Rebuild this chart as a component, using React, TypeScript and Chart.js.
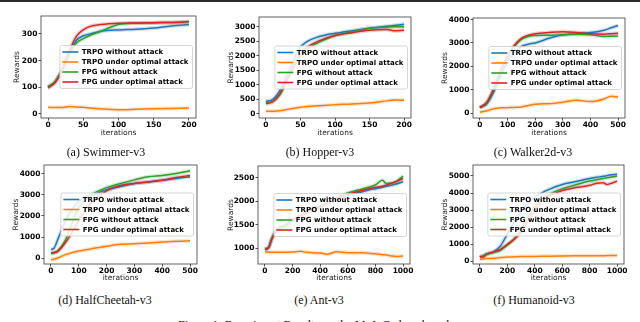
import React, { useEffect, useRef } from "react";
import { Chart, registerables } from "chart.js";

Chart.register(...registerables);

const FONT = '"DejaVu Sans", sans-serif';
const SERIF = '"Liberation Serif", "Times New Roman", serif';

const SERIES_NAMES = [
  "TRPO without attack",
  "TRPO under optimal attack",
  "FPG without attack",
  "FPG under optimal attack",
];
const SERIES_COLORS = ["#1f77b4", "#ff7f0e", "#2ca02c", "#d62728"];
const BAND_COLORS = [
  "rgba(31,119,180,0.22)",
  "rgba(255,127,14,0.22)",
  "rgba(44,160,44,0.22)",
  "rgba(214,39,40,0.22)",
];

// ---------- (a) Swimmer-v3 ----------
const swimmerIter = [0, 10, 20, 30, 40, 50, 60, 75, 100, 125, 150, 175, 200];
const swimmerTrpo = [100, 120, 165, 225, 275, 293, 300, 310, 315, 317, 322, 330, 335];
const swimmerTrpoAttack = [25, 24, 24, 28, 26, 25, 22, 19, 16, 18, 20, 21, 22];
const swimmerFpg = [103, 122, 165, 222, 265, 282, 295, 310, 335, 340, 341, 343, 345];
const swimmerFpgAttack = [97, 118, 165, 235, 290, 315, 328, 335, 340, 341, 342, 343, 346];
const swimmerXTicks = [0, 50, 100, 150, 200];
const swimmerYTicks = [0, 100, 200, 300];

// ---------- (b) Hopper-v3 ----------
const hopperIter = [0, 10, 20, 30, 40, 50, 60, 75, 100, 125, 150, 175, 185, 200];
const hopperTrpo = [430, 500, 800, 1300, 1850, 2300, 2500, 2650, 2780, 2870, 2950, 3020, 3050, 3090];
const hopperTrpoAttack = [90, 95, 110, 150, 190, 230, 255, 280, 320, 340, 380, 450, 480, 470];
const hopperFpg = [380, 430, 650, 1100, 1600, 2000, 2250, 2450, 2700, 2830, 2950, 2990, 3000, 3000];
const hopperFpgAttack = [360, 420, 700, 1150, 1650, 2050, 2300, 2500, 2700, 2800, 2880, 2910, 2870, 2880];
const hopperXTicks = [0, 50, 100, 150, 200];
const hopperYTicks = [0, 500, 1000, 1500, 2000, 2500, 3000];

// ---------- (c) Walker2d-v3 ----------
const walkerIter = [0, 25, 50, 75, 100, 125, 150, 175, 200, 250, 300, 350, 400, 450, 475, 500];
const walkerTrpo = [230, 400, 900, 1600, 2200, 2600, 2850, 2950, 3000, 3200, 3350, 3400, 3450, 3550, 3650, 3750];
const walkerTrpoAttack = [30, 100, 180, 220, 230, 240, 260, 320, 380, 400, 460, 550, 490, 600, 720, 680];
const walkerFpg = [230, 450, 1000, 1800, 2400, 2850, 3150, 3280, 3320, 3330, 3350, 3380, 3350, 3280, 3290, 3300];
const walkerFpgAttack = [230, 450, 1050, 1800, 2450, 2900, 3200, 3330, 3400, 3450, 3480, 3450, 3400, 3380, 3400, 3420];
const walkerXTicks = [0, 100, 200, 300, 400, 500];
const walkerYTicks = [0, 1000, 2000, 3000, 4000];

// ---------- (d) HalfCheetah-v3 ----------
const cheetahIter = [0, 10, 25, 50, 75, 100, 125, 150, 200, 250, 300, 350, 400, 450, 500];
const cheetahTrpo = [420, 450, 900, 1700, 2300, 2700, 2880, 3000, 3250, 3400, 3550, 3620, 3700, 3780, 3870];
const cheetahTrpoAttack = [-80, -60, 0, 150, 250, 330, 390, 450, 560, 650, 680, 720, 760, 800, 820];
const cheetahFpg = [250, 260, 350, 800, 1600, 2400, 2800, 3050, 3350, 3550, 3720, 3870, 3930, 4020, 4150];
const cheetahFpgAttack = [230, 240, 320, 700, 1200, 1800, 2300, 2700, 3200, 3450, 3550, 3620, 3700, 3830, 3930];
const cheetahXTicks = [0, 100, 200, 300, 400, 500];
const cheetahYTicks = [0, 1000, 2000, 3000, 4000];

// ---------- (e) Ant-v3 ----------
const antIter = [0, 25, 50, 75, 100, 150, 200, 260, 300, 400, 450, 520, 600, 700, 750, 800, 850, 880, 950, 1000];
const antTrpo = [990, 1010, 1200, 1340, 1420, 1490, 1600, 1690, 1760, 1900, 1960, 2050, 2130, 2200, 2240, 2270, 2300, 2320, 2370, 2420];
const antTrpoAttack = [920, 915, 910, 910, 910, 912, 915, 930, 910, 895, 870, 920, 900, 900, 890, 880, 860, 850, 820, 830];
const antFpg = [980, 1000, 1200, 1350, 1430, 1500, 1600, 1700, 1750, 1880, 1960, 2080, 2180, 2260, 2300, 2350, 2450, 2380, 2420, 2540];
const antFpgAttack = [970, 1000, 1200, 1330, 1420, 1480, 1600, 1690, 1750, 1880, 1960, 2070, 2150, 2230, 2270, 2300, 2320, 2350, 2420, 2490];
const antXTicks = [0, 200, 400, 600, 800, 1000];
const antYTicks = [1000, 1500, 2000, 2500];

// ---------- (f) Humanoid-v3 ----------
const humanoidIter = [0, 25, 50, 100, 150, 200, 250, 300, 350, 400, 450, 500, 600, 700, 800, 850, 900, 925, 950, 1000];
const humanoidTrpo = [250, 330, 420, 560, 900, 1600, 2300, 2900, 3400, 3750, 4000, 4200, 4500, 4670, 4850, 4920, 4980, 5020, 5050, 5100];
const humanoidTrpoAttack = [120, 140, 160, 180, 220, 250, 265, 280, 285, 290, 295, 300, 310, 320, 330, 330, 330, 335, 335, 340];
const humanoidFpg = [250, 330, 420, 520, 650, 950, 1300, 1900, 2600, 3200, 3600, 3900, 4250, 4480, 4700, 4780, 4850, 4900, 4920, 5000];
const humanoidFpgAttack = [280, 260, 420, 550, 700, 1000, 1300, 1700, 2400, 3000, 3500, 3800, 4150, 4320, 4450, 4580, 4600, 4500, 4550, 4700];
const humanoidXTicks = [0, 200, 400, 600, 800, 1000];
const humanoidYTicks = [0, 1000, 2000, 3000, 4000, 5000];

type PanelDef = {
  caption: string;
  iter: number[];
  series: number[][];
  xTicks: number[];
  yTicks: number[];
  xRange: [number, number];
  yRange: [number, number];
  box: { left: number; top: number; width: number; height: number };
  plot: { l: number; t: number; r: number; b: number };
  yTitleX: number;
  xTitleY: number;
  captionPos: [number, number];
};

const PANELS: PanelDef[] = [
  {
    caption: "(a) Swimmer-v3",
    iter: swimmerIter,
    series: [swimmerTrpo, swimmerTrpoAttack, swimmerFpg, swimmerFpgAttack],
    xTicks: swimmerXTicks,
    yTicks: swimmerYTicks,
    xRange: [-10, 210],
    yRange: [-15, 367],
    box: { left: 0, top: 0, width: 213, height: 140 },
    plot: { l: 41, t: 16, r: 196, b: 118 },
    yTitleX: 17,
    xTitleY: 133,
    captionPos: [106, 152],
  },
  {
    caption: "(b) Hopper-v3",
    iter: hopperIter,
    series: [hopperTrpo, hopperTrpoAttack, hopperFpg, hopperFpgAttack],
    xTicks: hopperXTicks,
    yTicks: hopperYTicks,
    xRange: [-10, 210],
    yRange: [-140, 3340],
    box: { left: 213, top: 0, width: 213, height: 140 },
    plot: { l: 259, t: 17, r: 411, b: 118 },
    yTitleX: 231,
    xTitleY: 133,
    captionPos: [320, 152],
  },
  {
    caption: "(c) Walker2d-v3",
    iter: walkerIter,
    series: [walkerTrpo, walkerTrpoAttack, walkerFpg, walkerFpgAttack],
    xTicks: walkerXTicks,
    yTicks: walkerYTicks,
    xRange: [-25, 525],
    yRange: [-214, 4071],
    box: { left: 426, top: 0, width: 214, height: 140 },
    plot: { l: 473, t: 18, r: 625, b: 118 },
    yTitleX: 445,
    xTitleY: 133,
    captionPos: [533, 152],
  },
  {
    caption: "(d) HalfCheetah-v3",
    iter: cheetahIter,
    series: [cheetahTrpo, cheetahTrpoAttack, cheetahFpg, cheetahFpgAttack],
    xTicks: cheetahXTicks,
    yTicks: cheetahYTicks,
    xRange: [-25, 525],
    yRange: [-285, 4427],
    box: { left: 0, top: 145, width: 213, height: 141 },
    plot: { l: 44, t: 165, r: 197, b: 264 },
    yTitleX: 16,
    xTitleY: 278,
    captionPos: [105, 300],
  },
  {
    caption: "(e) Ant-v3",
    iter: antIter,
    series: [antTrpo, antTrpoAttack, antFpg, antFpgAttack],
    xTicks: antXTicks,
    yTicks: antYTicks,
    xRange: [-50, 1050],
    yRange: [660, 2755],
    box: { left: 213, top: 145, width: 213, height: 141 },
    plot: { l: 258, t: 166, r: 410, b: 264 },
    yTitleX: 231,
    xTitleY: 278,
    captionPos: [319, 300],
  },
  {
    caption: "(f) Humanoid-v3",
    iter: humanoidIter,
    series: [humanoidTrpo, humanoidTrpoAttack, humanoidFpg, humanoidFpgAttack],
    xTicks: humanoidXTicks,
    yTicks: humanoidYTicks,
    xRange: [-50, 1050],
    yRange: [-156, 5642],
    box: { left: 426, top: 145, width: 214, height: 141 },
    plot: { l: 473, t: 165, r: 624, b: 264 },
    yTitleX: 445,
    xTitleY: 278,
    captionPos: [534, 300],
  },
];

const framePlugin = {
  id: "frame",
  afterDatasetsDraw(chart: any) {
    const { ctx, chartArea: a } = chart;
    ctx.save();
    ctx.strokeStyle = "#3a3a3a";
    ctx.lineWidth = 0.8;
    ctx.strokeRect(a.left, a.top, a.right - a.left, a.bottom - a.top);
    ctx.restore();
  },
};

const legendPlugin = {
  id: "boxLegend",
  afterDraw(chart: any) {
    const { ctx, chartArea: a } = chart;
    ctx.save();
    ctx.font = `bold 7px ${FONT}`;
    const tw = Math.max(...SERIES_NAMES.map((n) => ctx.measureText(n).width));
    const w = 22 + tw + 4;
    const h = 43;
    const right = a.right - 3.5;
    const left = right - w;
    const cy = (a.top + a.bottom) / 2;
    const top = cy - h / 2;
    ctx.beginPath();
    if ((ctx as any).roundRect) (ctx as any).roundRect(left, top, w, h, 2);
    else ctx.rect(left, top, w, h);
    ctx.fillStyle = "rgba(255,255,255,0.85)";
    ctx.fill();
    ctx.strokeStyle = "#cccccc";
    ctx.lineWidth = 0.8;
    ctx.stroke();
    ctx.textBaseline = "middle";
    ctx.textAlign = "left";
    SERIES_NAMES.forEach((name, i) => {
      const y = cy - 15 + i * 10;
      ctx.strokeStyle = SERIES_COLORS[i];
      ctx.lineWidth = 1.6;
      ctx.beginPath();
      ctx.moveTo(left + 2.5, y);
      ctx.lineTo(left + 18.5, y);
      ctx.stroke();
      ctx.fillStyle = "#000";
      ctx.fillText(name, left + 22, y + 0.5);
    });
    ctx.restore();
  },
};

function PanelChart({ def }: { def: PanelDef }) {
  const ref = useRef<HTMLCanvasElement | null>(null);
  useEffect(() => {
    if (!ref.current) return;
    const { box, plot } = def;
    const yAxisW = plot.l - box.left;
    const padT = plot.t - box.top;
    const padR = box.left + box.width - plot.r;
    const xAxisH = box.top + box.height - plot.b;
    const titleLH = 7.5 * 1.2;
    const xTitlePadB = box.top + box.height - def.xTitleY - titleLH / 2;
    const yTitlePadT = def.yTitleX - box.left - titleLH / 2;

    const lineSets = def.series.map((vals, i) => ({
      label: SERIES_NAMES[i],
      data: def.iter.map((x, k) => ({ x, y: vals[k] })),
      borderColor: SERIES_COLORS[i],
      borderWidth: 1.5,
      pointRadius: 0,
      cubicInterpolationMode: "monotone" as const,
      fill: false,
    }));
    const bandSets = def.series.map((vals, i) => ({
      label: SERIES_NAMES[i] + " band",
      data: def.iter.map((x, k) => ({ x, y: vals[k] })),
      borderColor: BAND_COLORS[i],
      borderWidth: 4,
      pointRadius: 0,
      cubicInterpolationMode: "monotone" as const,
      fill: false,
    }));
    // first dataset is drawn on top: red line on top, bands behind everything
    const datasets = [...lineSets.slice().reverse(), ...bandSets.slice().reverse()];

    const chart = new Chart(ref.current, {
      type: "line",
      data: { datasets },
      plugins: [framePlugin, legendPlugin],
      options: {
        animation: false,
        responsive: false,
        maintainAspectRatio: false,
        devicePixelRatio: 1,
        layout: { padding: { left: 0, top: padT, right: padR, bottom: 0 } },
        plugins: { legend: { display: false }, tooltip: { enabled: false } },
        scales: {
          x: {
            type: "linear",
            min: def.xRange[0],
            max: def.xRange[1],
            afterFit: (s: any) => {
              s.height = xAxisH;
            },
            afterBuildTicks: (s: any) => {
              s.ticks = def.xTicks.map((v) => ({ value: v }));
            },
            grid: { drawOnChartArea: false, drawTicks: true, tickLength: 2.5, color: "#222", lineWidth: 0.8 },
            border: { display: false },
            ticks: {
              autoSkip: false,
              maxRotation: 0,
              padding: 0.5,
              color: "#000",
              font: { family: FONT, size: 7.5, weight: "bold" },
              callback: (v: any) => String(v),
            },
            title: {
              display: true,
              text: "iterations",
              color: "#222",
              font: { family: FONT, size: 7.5 },
              padding: { top: 0, bottom: xTitlePadB },
            },
          },
          y: {
            type: "linear",
            min: def.yRange[0],
            max: def.yRange[1],
            afterFit: (s: any) => {
              s.width = yAxisW;
            },
            afterBuildTicks: (s: any) => {
              s.ticks = def.yTicks.map((v) => ({ value: v }));
            },
            grid: { drawOnChartArea: false, drawTicks: true, tickLength: 2.5, color: "#222", lineWidth: 0.8 },
            border: { display: false },
            ticks: {
              autoSkip: false,
              padding: 1,
              color: "#000",
              font: { family: FONT, size: 7.5, weight: "bold" },
              callback: (v: any) => String(v),
            },
            title: {
              display: true,
              text: "Rewards",
              color: "#222",
              font: { family: FONT, size: 7.5 },
              padding: { top: yTitlePadT, bottom: 0 },
            },
          },
        },
      } as any,
    });
    return () => chart.destroy();
  }, [def]);

  return (
    <canvas
      ref={ref}
      width={def.box.width}
      height={def.box.height}
      style={{
        position: "absolute",
        left: def.box.left,
        top: def.box.top,
        width: def.box.width,
        height: def.box.height,
      }}
    />
  );
}

export default function App() {
  return (
    <div
      style={{
        position: "fixed",
        left: 0,
        top: 0,
        width: 640,
        height: 322,
        overflow: "hidden",
        background: "#fff",
      }}
    >
      <div style={{ position: "absolute", left: 0, top: 0, width: 640, height: 2, background: "#2b2b2b" }} />
      {PANELS.map((p) => (
        <PanelChart key={p.caption} def={p} />
      ))}
      {PANELS.map((p) => (
        <div
          key={p.caption + "-cap"}
          style={{
            position: "absolute",
            left: p.captionPos[0],
            top: p.captionPos[1] - 7,
            transform: "translateX(-50%)",
            fontFamily: SERIF,
            fontSize: 12,
            lineHeight: "14px",
            whiteSpace: "nowrap",
            color: "#111",
          }}
        >
          {p.caption}
        </div>
      ))}
      <div
        style={{
          position: "absolute",
          left: 178,
          top: 318,
          fontFamily: SERIF,
          fontSize: 12,
          lineHeight: "14px",
          whiteSpace: "nowrap",
          color: "#111",
        }}
      >
        Figure 1: Experiment Results on the MuJoCo benchmarks.
      </div>
    </div>
  );
}
